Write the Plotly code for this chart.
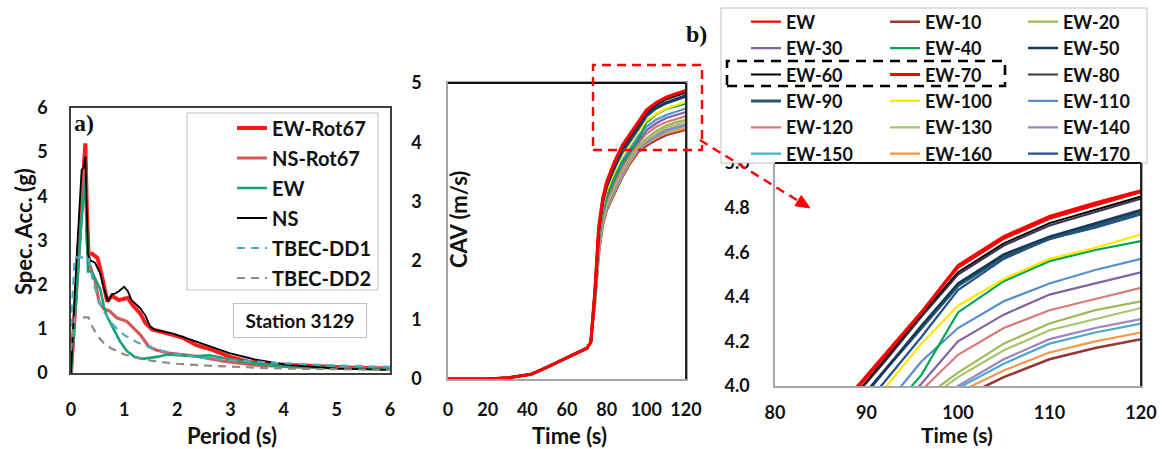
import plotly.graph_objects as go

W, H = 1162, 449


def px(x):
    return x / W


def py(y):
    return 1 - y / H


FONT = "Lato"
SERIF = "Liberation Serif"

# ---------------- Panel a: response spectra ----------------
per_ew_rot = [0, 0.1, 0.2, 0.27, 0.3, 0.33, 0.4, 0.5, 0.6, 0.68, 0.77, 0.9, 1.0, 1.07, 1.15, 1.22, 1.3, 1.4,
              1.53, 1.65, 1.78, 1.95, 2.1, 2.36, 2.67, 2.98, 3.36, 3.8, 4.3, 4.74, 5.3, 6.0]
sa_ew_rot = [0, 2.0, 4.1, 5.2, 3.6, 2.7, 2.7, 2.6, 2.1, 1.62, 1.75, 1.65, 1.68, 1.7, 1.55, 1.46, 1.35, 1.13,
             0.98, 0.95, 0.91, 0.86, 0.8, 0.63, 0.52, 0.37, 0.25, 0.2, 0.17, 0.15, 0.12, 0.1]

per_ns_rot = [0, 0.1, 0.2, 0.27, 0.3, 0.35, 0.45, 0.53, 0.62, 0.73, 0.86, 1.05, 1.15, 1.3, 1.46, 1.6, 1.84,
              2.1, 2.36, 2.86, 3.48, 4.2, 5.0, 6.0]
sa_ns_rot = [0, 1.9, 3.9, 4.8, 3.0, 2.45, 2.1, 1.6, 1.45, 1.4, 1.25, 1.17, 1.05, 0.87, 0.6, 0.52, 0.45,
             0.42, 0.38, 0.27, 0.18, 0.14, 0.11, 0.09]

per_ew = [0, 0.1, 0.2, 0.27, 0.32, 0.38, 0.45, 0.55, 0.62, 0.67, 0.8, 0.92, 1.05, 1.2, 1.35, 1.5, 1.65, 1.8,
          2.0, 2.3, 2.6, 2.9, 3.2, 3.6, 4.0, 5.0, 6.0]
sa_ew = [0, 1.7, 3.5, 4.4, 2.3, 2.3, 2.15, 1.9, 1.5, 1.3, 1.0, 0.72, 0.5, 0.36, 0.32, 0.34, 0.37, 0.42,
         0.4, 0.38, 0.4, 0.33, 0.26, 0.2, 0.15, 0.11, 0.09]

per_ns = [0, 0.1, 0.2, 0.24, 0.27, 0.32, 0.36, 0.45, 0.55, 0.62, 0.7, 0.77, 0.83, 0.9, 1.0, 1.07, 1.14, 1.22,
          1.3, 1.4, 1.49, 1.6, 1.75, 1.9, 2.1, 2.36, 2.67, 2.98, 3.48, 4.1, 5.0, 6.0]
sa_ns = [0, 2.5, 4.6, 4.65, 4.9, 2.7, 2.55, 2.5, 2.25, 1.9, 1.62, 1.78, 1.8, 1.85, 1.95, 1.85, 1.65, 1.55,
         1.47, 1.3, 1.05, 0.97, 0.93, 0.9, 0.82, 0.71, 0.58, 0.45, 0.3, 0.18, 0.1, 0.07]

per_tbec = [0, 0.07, 0.33, 0.4, 0.5, 0.6, 0.75, 0.9, 1.0, 1.25, 1.5, 1.75, 2.0, 2.5, 3.0, 3.5, 4.0, 5.0, 6.0]
sa_dd1 = [1.05, 2.62, 2.62, 2.15, 1.72, 1.43, 1.15, 0.96, 0.86, 0.69, 0.57, 0.49, 0.43, 0.34, 0.29, 0.25,
          0.22, 0.17, 0.14]
sa_dd2 = [0.5, 1.26, 1.26, 1.05, 0.84, 0.7, 0.56, 0.47, 0.42, 0.34, 0.28, 0.24, 0.21, 0.17, 0.14, 0.12,
          0.1, 0.08, 0.07]

# ---------------- Panel b: CAV time histories ----------------
time_s = [0, 20, 30, 42, 50, 60, 70, 72, 74, 76, 78, 80, 84, 88, 92, 96, 100, 105, 110, 115, 120]
cav_early = [0, 0, 0.02, 0.08, 0.2, 0.36, 0.52, 0.62]

cav_late = {
    "EW":     [1.45, 2.55, 3.05, 3.32, 3.66, 3.94, 4.13, 4.33, 4.53, 4.66, 4.75, 4.81, 4.87],
    "EW-10":  [1.25, 2.10, 2.60, 2.85, 3.15, 3.42, 3.65, 3.84, 3.94, 4.04, 4.12, 4.17, 4.21],
    "EW-20":  [1.30, 2.22, 2.72, 2.97, 3.28, 3.55, 3.76, 3.94, 4.06, 4.19, 4.28, 4.34, 4.38],
    "EW-30":  [1.34, 2.31, 2.80, 3.05, 3.36, 3.63, 3.84, 4.01, 4.20, 4.32, 4.41, 4.46, 4.51],
    "EW-40":  [1.38, 2.38, 2.86, 3.10, 3.40, 3.66, 3.86, 4.05, 4.33, 4.47, 4.56, 4.61, 4.65],
    "EW-50":  [1.43, 2.50, 3.00, 3.26, 3.60, 3.88, 4.07, 4.27, 4.46, 4.59, 4.67, 4.73, 4.79],
    "EW-60":  [1.44, 2.54, 3.04, 3.31, 3.65, 3.92, 4.12, 4.32, 4.51, 4.64, 4.73, 4.79, 4.85],
    "EW-70":  [1.45, 2.56, 3.05, 3.33, 3.67, 3.95, 4.14, 4.33, 4.54, 4.67, 4.76, 4.82, 4.875],
    "EW-80":  [1.44, 2.53, 3.03, 3.30, 3.64, 3.92, 4.11, 4.31, 4.50, 4.63, 4.72, 4.78, 4.84],
    "EW-90":  [1.42, 2.49, 2.99, 3.26, 3.59, 3.87, 4.07, 4.26, 4.45, 4.58, 4.66, 4.72, 4.78],
    "EW-100": [1.39, 2.42, 2.92, 3.18, 3.51, 3.79, 3.99, 4.19, 4.36, 4.48, 4.57, 4.62, 4.68],
    "EW-110": [1.36, 2.35, 2.85, 3.11, 3.43, 3.70, 3.91, 4.11, 4.26, 4.38, 4.46, 4.52, 4.57],
    "EW-120": [1.32, 2.26, 2.76, 3.01, 3.32, 3.58, 3.80, 3.98, 4.14, 4.26, 4.34, 4.39, 4.44],
    "EW-130": [1.29, 2.19, 2.69, 2.95, 3.26, 3.53, 3.74, 3.92, 4.04, 4.16, 4.25, 4.30, 4.35],
    "EW-140": [1.28, 2.16, 2.66, 2.91, 3.22, 3.49, 3.71, 3.89, 4.00, 4.12, 4.21, 4.26, 4.30],
    "EW-150": [1.27, 2.15, 2.65, 2.90, 3.20, 3.47, 3.70, 3.88, 3.99, 4.10, 4.19, 4.24, 4.28],
    "EW-160": [1.26, 2.12, 2.62, 2.87, 3.17, 3.44, 3.67, 3.86, 3.97, 4.07, 4.15, 4.20, 4.24],
    "EW-170": [1.42, 2.48, 2.98, 3.24, 3.56, 3.83, 4.02, 4.22, 4.43, 4.57, 4.66, 4.71, 4.77],
}

series_names = ["EW", "EW-10", "EW-20", "EW-30", "EW-40", "EW-50", "EW-60", "EW-70", "EW-80",
                "EW-90", "EW-100", "EW-110", "EW-120", "EW-130", "EW-140", "EW-150", "EW-160", "EW-170"]
series_colors = {
    "EW": "#ff0000", "EW-10": "#953735", "EW-20": "#9bbb59", "EW-30": "#8064a2",
    "EW-40": "#00a650", "EW-50": "#17375e", "EW-60": "#000000", "EW-70": "#ff0000",
    "EW-80": "#3f3151", "EW-90": "#215968", "EW-100": "#ffe800", "EW-110": "#558ed5",
    "EW-120": "#d77a78", "EW-130": "#a8c46a", "EW-140": "#9d86c0", "EW-150": "#4bacc6",
    "EW-160": "#f79646", "EW-170": "#254f8f",
}
series_widths = {n: 2.2 for n in series_names}
series_widths.update({"EW-70": 3.2, "EW-90": 3.0, "EW-50": 2.5, "EW-10": 2.6, "EW-60": 1.8})
draw_order = ["EW-10", "EW-160", "EW-150", "EW-140", "EW-130", "EW-20", "EW-120", "EW-30", "EW-110",
              "EW-40", "EW-100", "EW-170", "EW-90", "EW-50", "EW-80", "EW-60", "EW", "EW-70"]

tick_font = dict(family=FONT, size=18, color="#111111", weight="bold")
title_font = dict(family=FONT, size=22, color="#111111", weight="bold")

fig = go.Figure()

dash_pat = "8px,6px"
spec = [
    ("EW-Rot67", per_ew_rot, sa_ew_rot, "#ff1a1a", 4.0, "solid"),
    ("NS-Rot67", per_ns_rot, sa_ns_rot, "#d25a58", 3.2, "solid"),
    ("EW", per_ew, sa_ew, "#12a676", 2.6, "solid"),
    ("NS", per_ns, sa_ns, "#000000", 1.8, "solid"),
    ("TBEC-DD1", per_tbec, sa_dd1, "#4bacc6", 2.2, dash_pat),
    ("TBEC-DD2", per_tbec, sa_dd2, "#8e8c7e", 2.2, dash_pat),
]
for rank, (name, xs, ys, col, lw, dash) in enumerate(spec):
    fig.add_trace(go.Scatter(
        x=xs, y=ys, mode="lines", name=name, legend="legend", legendrank=rank + 1,
        legendgroup="a" + name,
        line=dict(color=col, width=lw, dash=dash), xaxis="x", yaxis="y"))

col_of = {}
for i, n in enumerate(series_names):
    col_of[n] = ["legend2", "legend3", "legend4"][i % 3]

for n in draw_order:
    yvals = cav_early + cav_late[n]
    fig.add_trace(go.Scatter(
        x=time_s, y=yvals, mode="lines", name=n, legend=col_of[n], legendgroup="b" + n,
        legendrank=series_names.index(n) + 1,
        line=dict(color=series_colors[n], width=series_widths[n]), xaxis="x2", yaxis="y2"))
for n in draw_order:
    yvals = cav_early + cav_late[n]
    fig.add_trace(go.Scatter(
        x=time_s, y=yvals, mode="lines", name=n, showlegend=False, legendgroup="b" + n,
        legend=col_of[n],
        line=dict(color=series_colors[n], width=series_widths[n]), xaxis="x3", yaxis="y3"))

axis_common = dict(showgrid=False, zeroline=False, ticks="", tickfont=tick_font, showline=True,
                   mirror=True, automargin=False)

fig.update_layout(
    width=W, height=H, margin=dict(l=0, r=0, t=0, b=0, autoexpand=False),
    paper_bgcolor="white", plot_bgcolor="white",
    xaxis=dict(domain=[px(71), px(390)], range=[0, 6], dtick=1, linecolor="#404040", linewidth=1.5,
               ticklabelstandoff=20, anchor="y", **axis_common),
    yaxis=dict(domain=[py(373), py(108)], range=[0, 6], dtick=1, linecolor="#404040", linewidth=1.5,
               ticklabelstandoff=18, anchor="x", **axis_common),
    xaxis2=dict(domain=[px(448), px(686)], range=[0, 120], dtick=20, linecolor="#a6a6a6", linewidth=1.5,
                ticklabelstandoff=14, anchor="y2", **axis_common),
    yaxis2=dict(domain=[py(379), py(83)], range=[0, 5], dtick=1, linecolor="#a6a6a6", linewidth=1.5,
                ticklabelstandoff=21, anchor="x2", **axis_common),
    xaxis3=dict(domain=[px(775), px(1141)], range=[80, 120], dtick=10, linecolor="#a6a6a6", linewidth=1.5,
                ticklabelstandoff=10, anchor="y3", **axis_common),
    yaxis3=dict(domain=[py(386), py(163)], range=[4, 5], dtick=0.2, tickformat=".1f", linecolor="#a6a6a6",
                linewidth=1.5, ticklabelstandoff=20, anchor="x3", **axis_common),
    showlegend=True,
    legend=dict(x=px(232), y=py(108.5), xanchor="left", yanchor="top", bgcolor="rgba(0,0,0,0)",
                borderwidth=0, font=dict(family=FONT, size=20, color="#111111", weight="bold"),
                traceorder="grouped", tracegroupgap=1),
)
for i, lx in enumerate([746, 885, 1023]):
    fig.update_layout(**{f"legend{i + 2}": dict(
        x=px(lx), y=py(3.5), xanchor="left", yanchor="top", bgcolor="rgba(0,0,0,0)", borderwidth=0,
        font=dict(family=FONT, size=18, color="#111111", weight="bold"),
        traceorder="grouped", tracegroupgap=0)})

shapes = []
shapes.append(dict(type="rect", xref="paper", yref="paper", x0=px(187), x1=px(378), y0=py(290), y1=py(113),
                   line=dict(color="#bfbfbf", width=1), fillcolor="white", layer="above"))
shapes.append(dict(type="rect", xref="paper", yref="paper", x0=px(721), x1=px(1147), y0=py(163), y1=py(8),
                   line=dict(color="#bfbfbf", width=1), fillcolor="white", layer="above"))
for (x0, x1, y0, y1) in [(448, 686, 83, 379), (775, 1141, 163, 386)]:
    shapes.append(dict(type="line", xref="paper", yref="paper", x0=px(x0), x1=px(x1), y0=py(y0), y1=py(y0),
                       line=dict(color="#111111", width=1.8), layer="above"))
    shapes.append(dict(type="line", xref="paper", yref="paper", x0=px(x1), x1=px(x1), y0=py(y0), y1=py(y1),
                       line=dict(color="#111111", width=1.8), layer="above"))
shapes.append(dict(type="rect", xref="paper", yref="paper", x0=px(727), x1=px(1005), y0=py(86), y1=py(61),
                   line=dict(color="#000000", width=2.6, dash="10px,7px"), layer="above"))
shapes.append(dict(type="rect", xref="paper", yref="paper", x0=px(593), x1=px(702), y0=py(150), y1=py(65),
                   line=dict(color="#ff0000", width=2.4, dash="9px,6px"), layer="above"))
shapes.append(dict(type="line", xref="paper", yref="paper", x0=px(700), y0=py(140), x1=px(800), y1=py(202),
                   line=dict(color="#ff0000", width=2.4, dash="9px,6px"), layer="above"))
tip = (810, 208)
p1 = (794.9, 205.7)
p2 = (801.3, 195.5)
shapes.append(dict(type="path", xref="paper", yref="paper",
                   path=f"M {px(tip[0])} {py(tip[1])} L {px(p1[0])} {py(p1[1])} L {px(p2[0])} {py(p2[1])} Z",
                   fillcolor="#ff0000", line=dict(color="#ff0000", width=1), layer="above"))
fig.update_layout(shapes=shapes)

ann = []
ann.append(dict(text="Spec. Acc. (g)", x=px(23), y=py(232), textangle=-90, font=title_font))
ann.append(dict(text="Period (s)", x=px(232), y=py(435), font=title_font))
ann.append(dict(text="Time (s)", x=px(569), y=py(435), font=title_font))
ann.append(dict(text="CAV (m/s)", x=px(459), y=py(220), textangle=-90, font=title_font))
ann.append(dict(text="Time (s)", x=px(957), y=py(434), font=dict(family=FONT, size=21, color="#111111",
                                                                weight="bold")))
ann.append(dict(text="a)", x=px(84), y=py(123), font=dict(family=SERIF, size=24, color="#111111", weight="bold")))
ann.append(dict(text="b)", x=px(696), y=py(34), font=dict(family=SERIF, size=24, color="#111111", weight="bold")))
ann.append(dict(text="Station 3129", x=px(300), y=py(320.5), font=dict(family=FONT, size=19, color="#111111",
                                                                        weight="bold"),
                bordercolor="#bfbfbf", borderwidth=1, borderpad=5, bgcolor="white", width=122))
for a in ann:
    a.update(xref="paper", yref="paper", showarrow=False, xanchor="center", yanchor="middle")
fig.update_layout(annotations=ann)

fig.write_html("out.html")
